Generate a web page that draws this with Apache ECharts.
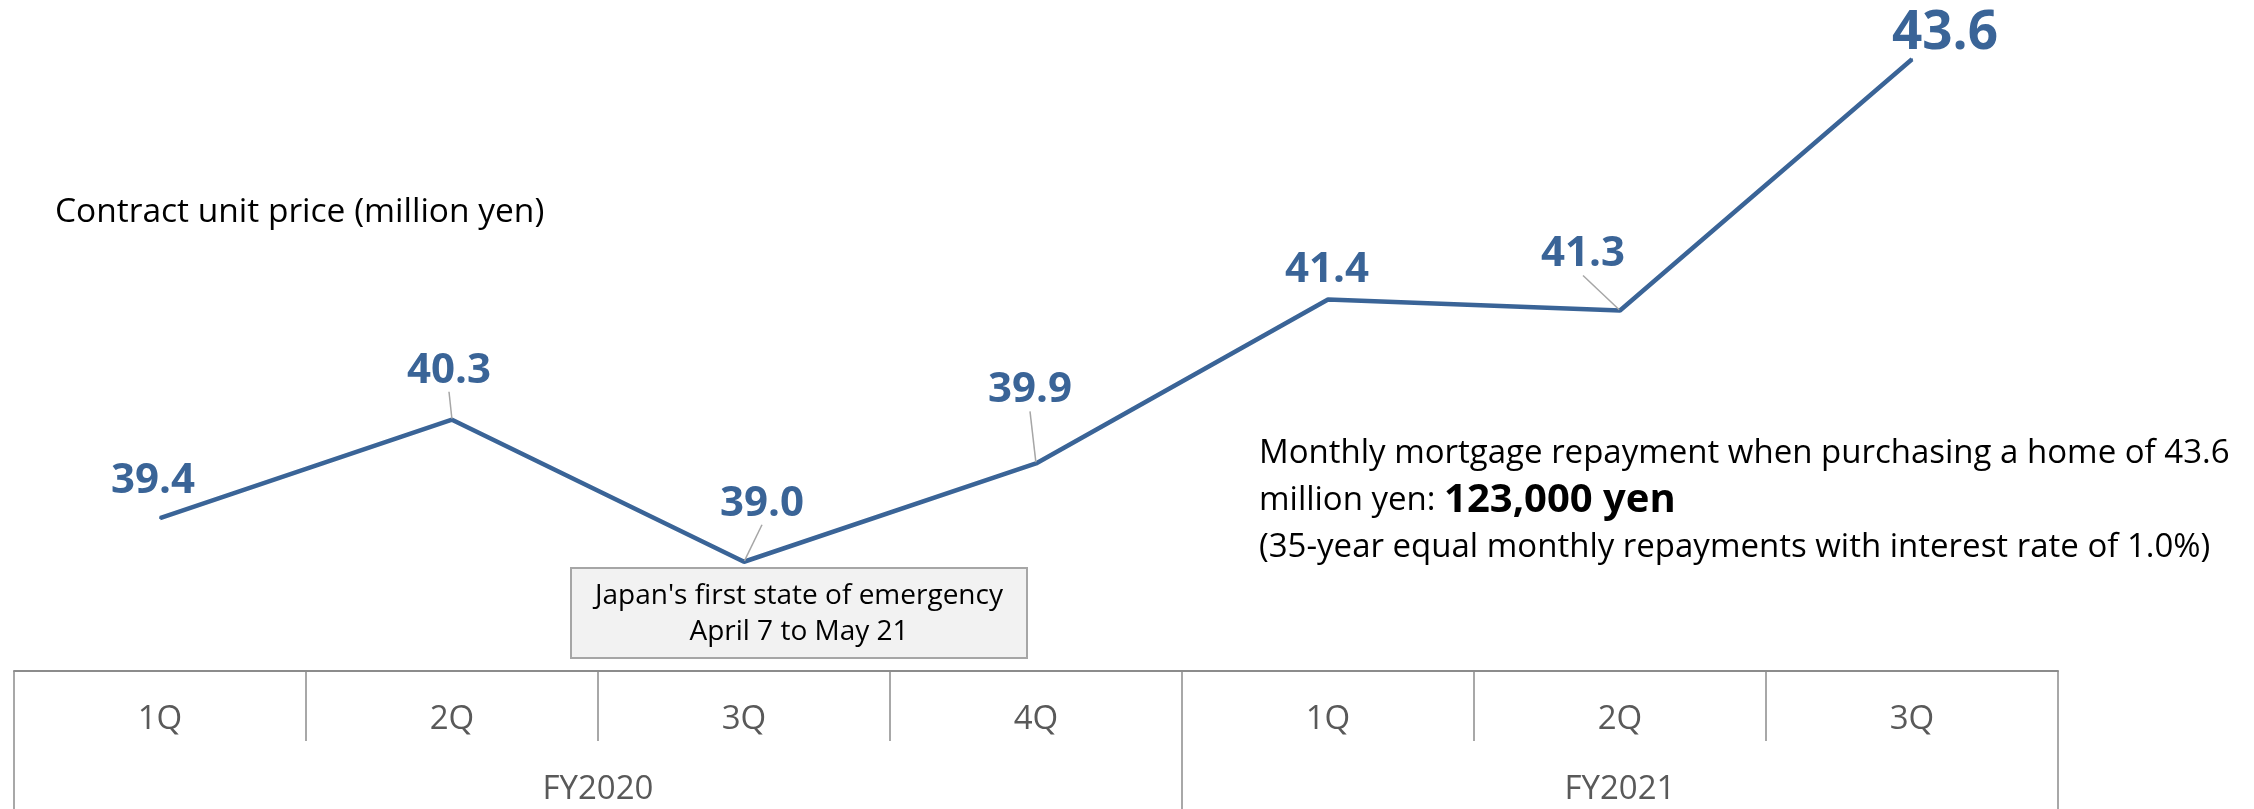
<!DOCTYPE html>
<html><head><meta charset="utf-8">
<script src="https://cdn.jsdelivr.net/npm/echarts@6/dist/echarts.min.js"></script>
<style>html,body{margin:0;padding:0;background:#fff}#c{width:2254px;height:809px}</style>
</head><body><div id="c"></div>
<script>
// ---- data ----
const categories = ['1Q', '2Q', '3Q', '4Q', '1Q', '2Q', '3Q'];
const prices = [39.4, 40.3, 39.0, 39.9, 41.4, 41.3, 43.6];
const fiscalYears = ['FY2020', 'FY2021'];
const fiscalYearQuarterCounts = [4, 3];
const yAxisRange = [38, 44];
const leftNote = 'Contract unit price (million yen)';
const rightNoteLines = ['Monthly mortgage repayment when purchasing a home of 43.6', 'million yen: ', '123,000 yen', '(35-year equal monthly repayments with interest rate of 1.0%)'];
const boxNoteLines = ["Japan's first state of emergency", 'April 7 to May 21'];

// ---- derived ----
const fyBounds = [0];
fiscalYearQuarterCounts.forEach(c => fyBounds.push(fyBounds[fyBounds.length - 1] + c));
const fyCenters = fiscalYears.map((_, i) => (fyBounds[i] + fyBounds[i + 1]) / 2);

// label placement (styling)
const labelOffsets = [[-7, -37], [-3, -49], [18, -58], [-6, -73], [-1, -30], [-37, -56], [33, -25]];
const leaderShown = [false, true, true, true, false, true, false];
const FONT = "'Open Sans', 'Noto Sans', sans-serif";
const LINE_COLOR = '#3A6497';
const GRAY = '#8c8c8c';

const chart = echarts.init(document.getElementById('c'), null, {renderer: 'canvas'});
chart.setOption({
  animation: false,
  grid: {left: 14, right: 196, top: 15.5, bottom: 138, containLabel: false},
  xAxis: [
    {
      type: 'category', data: categories, boundaryGap: true, position: 'bottom',
      axisLine: {show: true, lineStyle: {color: GRAY, width: 2}},
      axisTick: {show: true, interval: 0, alignWithLabel: false, length: 70, lineStyle: {color: GRAY, width: 1.5}},
      axisLabel: {interval: 0, margin: 32, fontSize: 33, color: '#595959', fontFamily: FONT},
      splitLine: {show: false}
    },
    {
      type: 'value', min: 0, max: fyBounds[fyBounds.length - 1], position: 'bottom',
      axisLine: {show: false},
      axisTick: {show: true, length: 138, customValues: fyBounds, lineStyle: {color: GRAY, width: 1.5}},
      axisLabel: {
        customValues: fyCenters, margin: 102, fontSize: 33, color: '#595959', fontFamily: FONT,
        formatter: v => fiscalYears[fyCenters.indexOf(v)] || ''
      },
      splitLine: {show: false}
    }
  ],
  yAxis: {type: 'value', min: yAxisRange[0], max: yAxisRange[1], show: false},
  series: [{
    type: 'line', xAxisIndex: 0,
    data: prices.map((v, i) => ({
      value: v,
      labelLine: {show: leaderShown[i]},
      label: i === prices.length - 1 ? {fontSize: 53} : {}
    })),
    showSymbol: true, symbol: 'circle', symbolSize: 2,
    itemStyle: {color: LINE_COLOR},
    lineStyle: {color: LINE_COLOR, width: 4.5},
    label: {
      show: true, position: 'inside', color: LINE_COLOR, fontWeight: 'bold',
      fontSize: 42, fontFamily: FONT, padding: [0, 0, 10, 0],
      formatter: p => p.value.toFixed(1)
    },
    labelLine: {show: false, lineStyle: {color: '#a6a6a6', width: 1.5}},
    labelLayout: p => ({dx: labelOffsets[p.dataIndex][0], dy: labelOffsets[p.dataIndex][1]})
  }],
  graphic: [
    {type: 'text', x: 55, y: 212, style: {text: leftNote, font: '33.5px ' + FONT, fill: '#000', verticalAlign: 'middle'}},
    {type: 'text', x: 1259, y: 430, style: {
      text: rightNoteLines[0] + '\n' + rightNoteLines[1] + '{b|' + rightNoteLines[2] + '}\n' + rightNoteLines[3],
      font: '33px ' + FONT, fill: '#000', verticalAlign: 'top', lineHeight: 47,
      rich: {b: {fontSize: 40, fontWeight: 'bold', fontFamily: FONT, lineHeight: 47, fill: '#000'}}
    }},
    {type: 'rect', shape: {x: 571, y: 568, width: 456, height: 90}, style: {fill: '#f2f2f2', stroke: '#a6a6a6', lineWidth: 2}, z: 5},
    {type: 'text', x: 799, y: 614, z: 6, style: {text: boxNoteLines.join('\n'), font: '28px ' + FONT, fill: '#000', align: 'center', verticalAlign: 'middle', lineHeight: 36}}
  ]
});
</script></body></html>
